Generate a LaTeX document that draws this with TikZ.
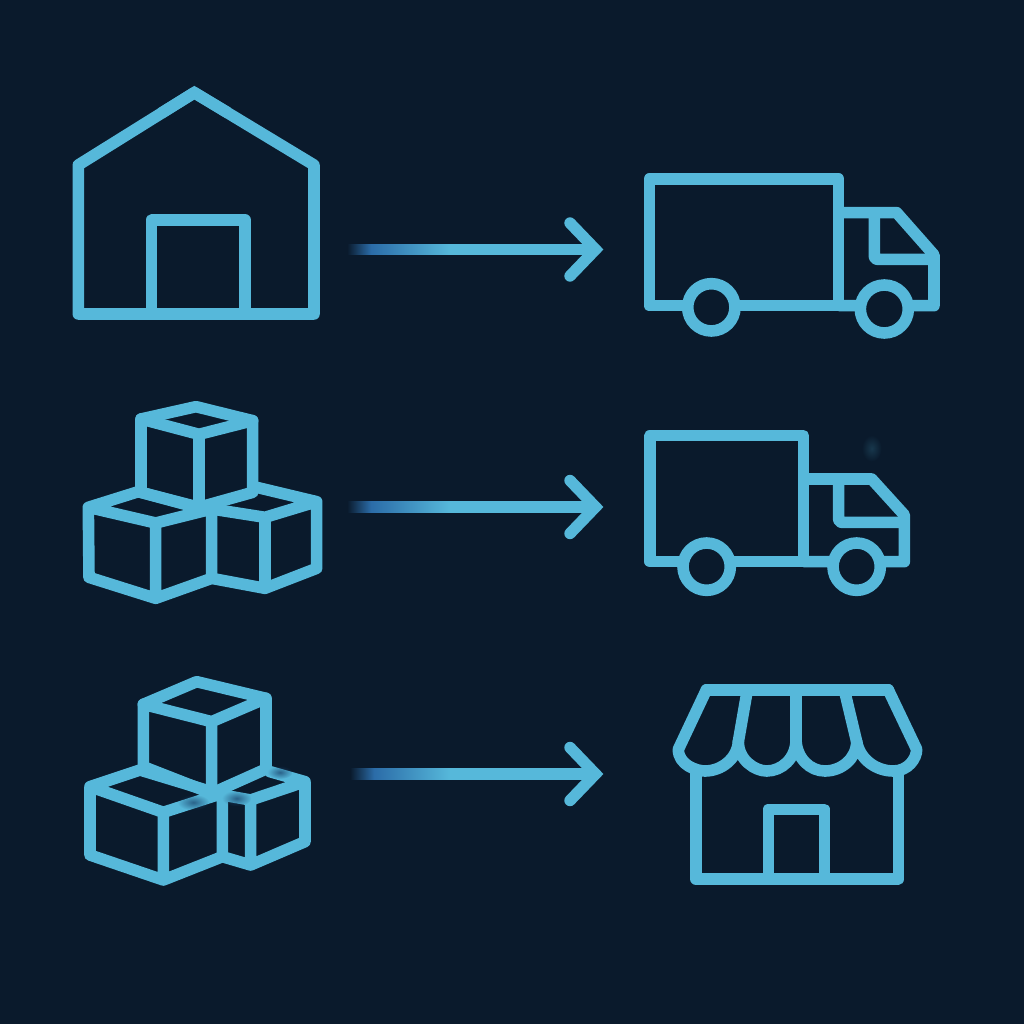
\documentclass[tikz,border=0pt]{standalone}
\usetikzlibrary{calc,fadings}
\definecolor{bgc}{HTML}{0A1A2C}
\definecolor{ln}{HTML}{56B8DA}
\definecolor{tailc}{HTML}{2B6CA8}
\tikzfading[name=softspot,inner color=transparent!25,outer color=transparent!100]
\tikzset{
 x=1pt,y=-1pt,
 icon/.style={draw=ln,line width=11.6pt,line join=round,line cap=round},
 cabline/.style={icon,line cap=butt},
 wheel/.style={icon,fill=bgc},
 link/.style={draw=ln,line width=11.4pt,line join=round,line cap=round},
 fadeA/.style={left color=bgc,right color=tailc,draw=none},
 fadeB/.style={left color=tailc,right color=ln,draw=none},
 zoomed/.style={scale=1/3},
 wear/.style={fill=tailc!55!bgc,path fading=softspot,draw=none},
 ghost/.style={fill=ln!25!bgc,path fading=softspot,draw=none},
}
\begin{document}
\begin{tikzpicture}
\useasboundingbox (0,0) rectangle (1024,1024);
\fill[bgc] (0,0) rectangle (1024,1024);

% warehouse
\begin{scope}[shift={(60,80)},zoomed]
\draw[icon] (55,702)--(55,255)--(403,38)--(762,255)--(762,702)--cycle;
\draw[icon,line join=miter,line cap=butt] (303,100)--(403,38)--(503,98);
\draw[icon] (275,702)--(275,420)--(555,420)--(555,702);
\end{scope}

% truck 1
\begin{scope}[shift={(630,160)},zoomed]
\draw[icon] (58,437)--(58,57)--(626,57)--(626,437)--cycle;
\draw[cabline] (626,158)--(800,158)--(912,285)--(912,437)--(626,437);
\draw[cabline,rounded corners=3pt] (733,158)--(733,298)--(912,298);
\draw[wheel] (244,442) circle (71);
\draw[wheel] (763,447) circle (72);
\end{scope}

% truck 2
\begin{scope}[shift={(630,420)},zoomed]
\fill[ghost] (725,85) ellipse (30 and 40);
\draw[icon] (60,425)--(60,47)--(520,47)--(520,425)--cycle;
\draw[cabline] (520,177)--(725,177)--(823,285)--(823,425)--(520,425);
\draw[cabline,rounded corners=3pt] (626,177)--(626,307)--(823,307);
\draw[wheel] (230,440) circle (71);
\draw[wheel] (680,440) circle (71);
\end{scope}

% boxes 1
\begin{scope}[shift={(60,390)},zoomed]
\draw[icon] (243,87)--(408,50)--(578,92)--(578,307)--(417,352)--(243,307)--cycle;
\draw[icon] (243,87)--(417,133)--(578,92) (417,133)--(417,352);
\draw[icon] (85,352)--(235,305)--(420,355) (85,352)--(287,399)--(455,357)--(455,565)--(287,625)--(87,562)--cycle (287,399)--(287,625);
\draw[icon] (590,292)--(770,335)--(770,535)--(615,595)--(455,565) (455,357)--(615,382)--(770,335) (615,382)--(615,595);
\end{scope}

% boxes 2
\begin{scope}[shift={(60,665)},zoomed]
\draw[icon] (250,118)--(410,50)--(618,100)--(618,312)--(455,385)--(250,305)--cycle;
\draw[icon] (250,118)--(455,170)--(618,100) (455,170)--(455,385);
\draw[icon] (90,365)--(240,315)--(487,390)--(487,575)--(310,645)--(90,570)--cycle (90,365)--(310,442)--(487,385) (310,442)--(310,645);
\draw[icon] (630,320)--(735,350)--(735,530)--(572,600)--(487,575) (487,390)--(572,405)--(735,350) (572,405)--(572,600);
\fill[wear] (400,412) ellipse (48 and 24);
\fill[wear] (530,400) ellipse (44 and 24);
\fill[wear] (660,322) ellipse (38 and 20);
\end{scope}

% shop
\begin{scope}[shift={(660,670)},zoomed]
\draw[icon] (139,60)--(685,60);
\draw[icon] (139,60)--(55,238) .. controls (55,285) and (110,303) .. (135,303) .. controls (185,303) and (232,265) .. (235,215)
 .. controls (235,270) and (285,303) .. (320,303) .. controls (365,303) and (408,265) .. (408,210)
 .. controls (410,265) and (450,303) .. (495,303) .. controls (545,303) and (590,265) .. (590,215)
 .. controls (600,270) and (650,303) .. (700,303) .. controls (745,303) and (770,265) .. (770,238)--(685,60);
\draw[icon] (262,60)--(235,215) (408,60)--(408,210) (553,60)--(590,215);
\draw[icon] (108,305)--(108,627)--(715,627)--(715,305);
\draw[icon] (325,627)--(325,418)--(493,418)--(493,627);
\end{scope}

% arrows
\foreach \n/\yy/\tl in {1/249.5/347,2/507/347,3/774/350}{
 \coordinate (tail\n) at (\tl,\yy);
 \coordinate (fa\n) at (\tl+24,\yy);
 \coordinate (mid\n) at (450,\yy);
 \coordinate (tip\n) at (595.5,\yy);
 \coordinate (bu\n) at (570,\yy-26.5);
 \coordinate (bd\n) at (570,\yy+26.5);
 \shade[fadeA] ($(tail\n)+(0,-5.4)$) rectangle ($(fa\n)+(0,5.4)$);
 \shade[fadeB] ($(fa\n)+(0,-5.4)$) rectangle ($(mid\n)+(0,5.4)$);
 \draw[link,line cap=butt] (mid\n) -- (tip\n);
 \draw[link,line join=miter] (bu\n) -- (tip\n) -- (bd\n);
}
\end{tikzpicture}
\end{document}
